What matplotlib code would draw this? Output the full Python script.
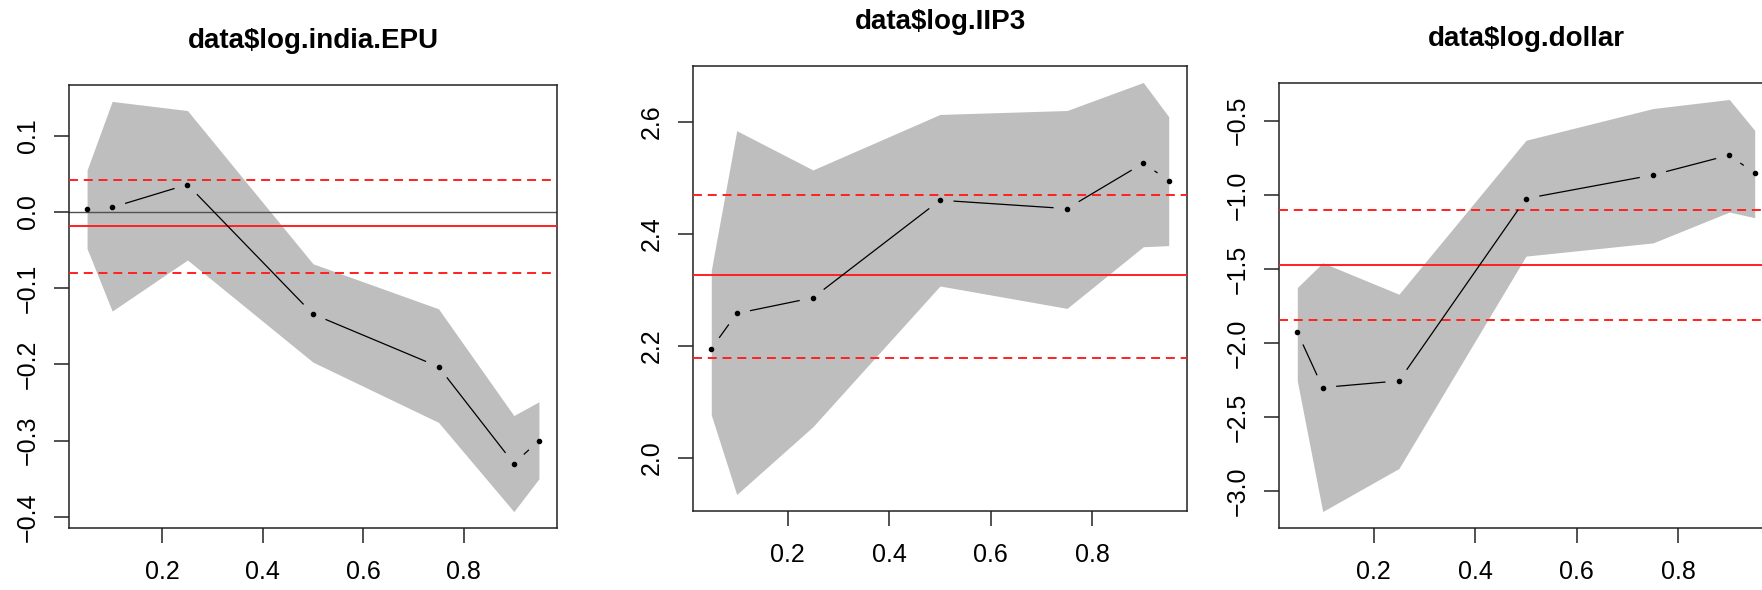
import numpy as np
import matplotlib
matplotlib.use("Agg")
import matplotlib.pyplot as plt

plt.rcParams['font.family'] = ['Liberation Sans', 'DejaVu Sans']

# ---------------- data ----------------
taus = [0.05, 0.10, 0.25, 0.50, 0.75, 0.90, 0.95]
xticks = [0.2, 0.4, 0.6, 0.8]

titles = ["data$log.india.EPU", "data$log.IIP3", "data$log.dollar"]

epu_coef = [0.004, 0.006, 0.036, -0.134, -0.203, -0.330, -0.300]
epu_upper = [0.055, 0.145, 0.133, -0.068, -0.127, -0.267, -0.249]
epu_lower = [-0.048, -0.130, -0.063, -0.197, -0.276, -0.393, -0.350]
epu_ols = [-0.019, 0.042, -0.080]          # estimate, upper, lower
epu_yticks = [-0.4, -0.3, -0.2, -0.1, 0.0, 0.1]

iip_coef = [2.195, 2.258, 2.286, 2.460, 2.445, 2.526, 2.495]
iip_upper = [2.335, 2.584, 2.514, 2.613, 2.620, 2.670, 2.609]
iip_lower = [2.077, 1.935, 2.056, 2.307, 2.267, 2.377, 2.379]
iip_ols = [2.326, 2.470, 2.179]
iip_yticks = [2.0, 2.2, 2.4, 2.6]

usd_coef = [-1.926, -2.299, -2.254, -1.025, -0.866, -0.732, -0.855]
usd_upper = [-1.625, -1.458, -1.670, -0.632, -0.418, -0.357, -0.565]
usd_lower = [-2.254, -3.135, -2.845, -1.413, -1.324, -1.116, -1.154]
usd_ols = [-1.471, -1.100, -1.846]
usd_yticks = [-3.0, -2.5, -2.0, -1.5, -1.0, -0.5]

panels = [
    (epu_coef, epu_upper, epu_lower, epu_ols, epu_yticks, True),
    (iip_coef, iip_upper, iip_lower, iip_ols, iip_yticks, False),
    (usd_coef, usd_upper, usd_lower, usd_ols, usd_yticks, False),
]

# panel boxes in pixels: left, top, right, bottom
W, H = 1762, 590
boxes = [(69, 85, 557, 528), (693, 66, 1187, 511), (1279, 83, 1773, 528)]

fig = plt.figure(figsize=(W / 100, H / 100), dpi=100)

GAP = 13.5  # pixels gap around points (R type="b")


def fmt(v):
    s = f"{abs(v):.1f}"
    return ("\u2212" + s) if v < 0 else s


for (coef, up, lo, ols, yt, zero), (l, t, r, b), title in zip(panels, boxes, titles):
    ax = fig.add_axes([l / W, (H - b) / H, (r - l) / W, (b - t) / H])
    x = np.array(taus)
    c = np.array(coef)
    u = np.array(up)
    lw_ = np.array(lo)

    allv = np.concatenate([u, lw_, c])
    ymin, ymax = allv.min(), allv.max()
    yr = ymax - ymin
    xr = x.max() - x.min()
    ax.set_xlim(x.min() - 0.04 * xr, x.max() + 0.04 * xr)
    ax.set_ylim(ymin - 0.04 * yr, ymax + 0.04 * yr)

    ax.fill_between(x, lw_, u, color="#BEBEBE", linewidth=0, zorder=1)

    if zero:
        ax.axhline(0, color="#505050", lw=1.0, zorder=2)
    ax.axhline(ols[0], color="#FF2020", lw=1.4, zorder=3)
    for v in ols[1:]:
        ax.axhline(v, color="#FF2020", lw=1.4, dashes=(4.6, 3.0), zorder=3)

    # line segments with gaps around points
    pts = ax.transData.transform(np.column_stack([x, c]))
    inv = ax.transData.inverted()
    for i in range(len(x) - 1):
        p0, p1 = pts[i], pts[i + 1]
        d = p1 - p0
        L = np.hypot(*d)
        if L <= 2 * GAP:
            continue
        e = d / L
        q = inv.transform(np.array([p0 + e * GAP, p1 - e * GAP]))
        ax.plot(q[:, 0], q[:, 1], color="black", lw=0.9, zorder=4,
                solid_capstyle="butt")
    ax.plot(x, c, linestyle="none", marker="o", ms=3.0, color="black", zorder=5)

    ax.set_xticks(xticks)
    ax.set_xticklabels([f"{v:.1f}" for v in xticks], fontsize=18)
    ax.set_yticks(yt)
    ax.set_yticklabels([fmt(v) for v in yt], fontsize=18, rotation=90, va="center")
    ax.tick_params(axis="both", length=10.8, width=1.1, color="#222222")
    ax.tick_params(axis="x", pad=12)
    ax.tick_params(axis="y", pad=10)
    for s in ax.spines.values():
        s.set_linewidth(1.1)
        s.set_color("#222222")

    ax.annotate(title, xy=(0.5, 1.0), xycoords="axes fraction",
                xytext=(0, 26.5), textcoords="offset points",
                ha="center", va="baseline", fontsize=20, fontweight="bold")

fig.savefig("out.png", dpi=100)
